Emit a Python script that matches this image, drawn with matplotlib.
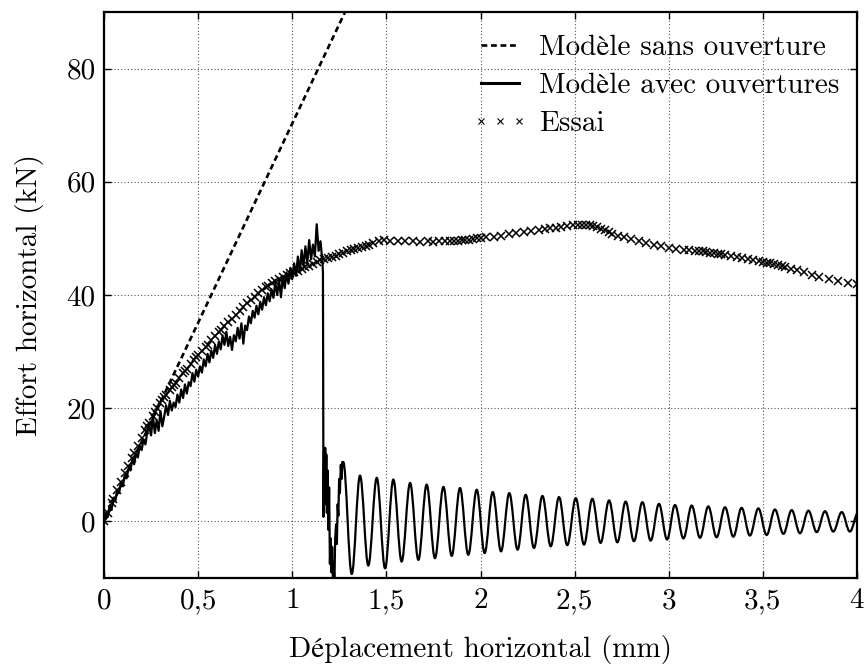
import matplotlib
matplotlib.use("Agg")
import matplotlib.pyplot as plt
from matplotlib.path import Path
from matplotlib.patches import PathPatch
from matplotlib.lines import Line2D

plt.rcParams['font.family'] = ['cmr10', 'STIXGeneral']
plt.rcParams['mathtext.fontset'] = 'cm'
plt.rcParams['axes.formatter.use_mathtext'] = True

# ---------------- data ----------------
# Modèle sans ouverture (linear elastic)
sans_x = [0.0, 0.5, 1.0, 1.4]
sans_y = [0.0, 35.1, 70.3, 98.4]

# Essai (test)
essai_x = [0.00, 0.02, 0.04, 0.05, 0.07, 0.09, 0.11, 0.13, 0.15, 0.16, 0.18, 0.20, 0.22, 0.23, 0.24,
           0.26, 0.27, 0.28, 0.30, 0.31, 0.32, 0.33, 0.35, 0.36, 0.37, 0.38, 0.40, 0.42, 0.43, 0.44,
           0.46, 0.48, 0.49, 0.50, 0.52, 0.54, 0.55, 0.57, 0.59, 0.61, 0.62, 0.64, 0.66, 0.68, 0.70,
           0.72, 0.74, 0.76, 0.78, 0.80, 0.82, 0.84, 0.86, 0.87, 0.89, 0.91, 0.93, 0.95, 0.97, 0.99,
           1.01, 1.03, 1.05, 1.07, 1.09, 1.11, 1.13, 1.15, 1.17, 1.19, 1.21, 1.23, 1.25, 1.27, 1.29,
           1.31, 1.33, 1.35, 1.37, 1.39, 1.41, 1.43, 1.46, 1.49, 1.52, 1.56, 1.60, 1.64, 1.68, 1.72,
           1.75, 1.78, 1.81, 1.84, 1.86, 1.88, 1.90, 1.92, 1.94, 1.96, 1.98, 2.00, 2.03, 2.07, 2.11,
           2.15, 2.19, 2.23, 2.27, 2.31, 2.34, 2.37, 2.40, 2.43, 2.46, 2.49, 2.52, 2.54, 2.56, 2.58,
           2.60, 2.62, 2.64, 2.66, 2.68, 2.70, 2.73, 2.76, 2.80, 2.84, 2.88, 2.92, 2.96, 3.00, 3.04,
           3.08, 3.11, 3.14, 3.16, 3.18, 3.20, 3.22, 3.24, 3.26, 3.28, 3.30, 3.33, 3.36, 3.39, 3.42,
           3.45, 3.48, 3.50, 3.52, 3.54, 3.56, 3.58, 3.60, 3.62, 3.65, 3.68, 3.72, 3.76, 3.80, 3.85,
           3.90, 3.95, 4.00]
essai_y = [0.0, 1.5, 3.2, 4.0, 5.6, 7.0, 8.5, 9.8, 11.2, 12.0, 13.4, 14.8, 16.2, 16.8, 17.4,
           18.7, 19.4, 20.0, 20.9, 21.4, 21.9, 22.4, 23.3, 23.7, 24.1, 24.5, 25.3, 26.2, 26.6, 27.0,
           27.8, 28.6, 29.0, 29.4, 30.1, 30.9, 31.2, 32.0, 32.7, 33.4, 33.8, 34.5, 35.2, 35.8, 36.5,
           37.1, 37.8, 38.5, 39.1, 39.7, 40.3, 40.9, 41.4, 41.6, 42.1, 42.5, 42.9, 43.2, 43.5, 43.8,
           44.0, 44.3, 44.6, 45.0, 45.2, 45.5, 45.8, 46.1, 46.3, 46.5, 46.7, 46.9, 47.2, 47.4, 47.7,
           47.9, 48.1, 48.3, 48.5, 48.7, 48.9, 49.2, 49.5, 49.7, 49.6, 49.6, 49.5, 49.5, 49.4, 49.5,
           49.4, 49.5, 49.5, 49.6, 49.6, 49.6, 49.7, 49.8, 49.8, 49.9, 50.0, 50.0, 50.2, 50.3, 50.5,
           50.7, 50.9, 51.1, 51.3, 51.5, 51.6, 51.8, 51.9, 52.0, 52.2, 52.3, 52.4, 52.4, 52.4, 52.3,
           52.2, 52.0, 51.7, 51.4, 51.1, 50.8, 50.5, 50.2, 49.9, 49.5, 49.2, 48.9, 48.6, 48.3, 48.1,
           48.0, 47.9, 47.8, 47.7, 47.7, 47.6, 47.5, 47.4, 47.3, 47.2, 47.1, 46.9, 46.7, 46.6, 46.4,
           46.2, 46.0, 45.9, 45.7, 45.6, 45.4, 45.3, 45.1, 44.9, 44.6, 44.4, 44.0, 43.6, 43.2, 42.8,
           42.5, 42.2, 42.0]

# Modèle avec ouvertures: noisy loading branch, collapse, then damped oscillation extrema
avec_x = [0.00, 0.01, 0.02, 0.03, 0.04, 0.05, 0.06, 0.07, 0.08, 0.09, 0.10, 0.11, 0.12, 0.13, 0.14,
          0.15, 0.16, 0.17, 0.18, 0.19, 0.20, 0.21, 0.22, 0.23, 0.24, 0.25, 0.26, 0.27, 0.28, 0.29,
          0.30, 0.31, 0.32, 0.33, 0.34, 0.35, 0.36, 0.37, 0.38, 0.39, 0.40, 0.41, 0.42, 0.43, 0.44,
          0.45, 0.46, 0.47, 0.48, 0.49, 0.50, 0.51, 0.52, 0.53, 0.54, 0.55, 0.56, 0.57, 0.58, 0.59,
          0.60, 0.61, 0.62, 0.63, 0.64, 0.65, 0.66, 0.67, 0.68, 0.69, 0.70, 0.71, 0.72, 0.73, 0.74,
          0.75, 0.76, 0.77, 0.78, 0.79, 0.80, 0.81, 0.82, 0.83, 0.84, 0.85, 0.86, 0.87, 0.88, 0.89,
          0.90, 0.91, 0.92, 0.93, 0.94, 0.95, 0.96, 0.97, 0.98, 0.99, 1.00, 1.01, 1.02, 1.03, 1.04,
          1.05, 1.06, 1.07, 1.08, 1.09, 1.10, 1.11, 1.12, 1.13, 1.14, 1.15, 1.16, 1.163, 1.166,
          1.169, 1.172, 1.175, 1.178, 1.181, 1.184, 1.188, 1.192, 1.196, 1.200, 1.204, 1.208, 1.212,
          1.216, 1.220, 1.224, 1.228, 1.233, 1.237, 1.241, 1.245, 1.249, 1.253, 1.258, 1.262, 1.266]
avec_y = [0.0, 1.5, 0.8, 2.8, 2.0, 4.2, 3.6, 5.4, 5.0, 6.8, 6.2, 8.0, 7.6, 9.3, 9.0,
          10.8, 10.1, 12.0, 11.3, 13.4, 12.6, 14.5, 13.6, 15.8, 16.8, 15.2, 18.6, 15.6, 17.9, 16.0,
          19.5, 16.8, 18.6, 20.5, 18.8, 21.3, 19.6, 21.0, 20.2, 22.4, 21.0, 23.3, 21.8, 24.2, 22.6,
          24.6, 23.9, 26.2, 24.7, 26.8, 25.6, 27.4, 26.3, 28.6, 27.4, 29.6, 28.1, 30.2, 28.9, 31.2,
          29.6, 31.8, 30.4, 32.8, 31.2, 33.5, 31.0, 32.6, 30.3, 32.9, 31.8, 34.2, 32.3, 35.0, 31.4,
          34.6, 33.8, 36.2, 35.0, 37.2, 36.0, 38.1, 36.6, 38.8, 37.4, 39.6, 38.2, 40.3, 38.9, 41.0,
          39.5, 42.2, 40.0, 42.6, 39.6, 43.3, 41.2, 44.0, 42.0, 44.8, 42.8, 45.6, 43.4, 46.8, 44.0,
          47.9, 45.1, 48.6, 45.6, 49.7, 46.3, 48.9, 46.8, 52.5, 47.8, 49.5, 46.0, 44.0, 0.8,
          12.5, 3.0, 13.0, 5.0, 11.8, 1.5, 9.0, -1.5, 6.0, -7.5, -3.0, -9.0, -4.5,
          -10.5, -8.0, -11.0, -3.0, -0.5, -4.0, 3.0, 1.0, 7.5, 5.0, 10.0, 7.5, 10.5]

osc_x = [1.271, 1.316, 1.360, 1.404, 1.449, 1.493, 1.537, 1.581, 1.626, 1.670, 1.714, 1.758,
         1.803, 1.847, 1.891, 1.935, 1.980, 2.022, 2.065, 2.109, 2.153, 2.197, 2.240, 2.284,
         2.329, 2.373, 2.417, 2.461, 2.506, 2.550, 2.594, 2.638, 2.683, 2.727, 2.771, 2.815,
         2.860, 2.904, 2.948, 2.991, 3.033, 3.078, 3.122, 3.166, 3.210, 3.254, 3.299, 3.343,
         3.387, 3.431, 3.476, 3.520, 3.564, 3.609, 3.653, 3.697, 3.742, 3.786, 3.830, 3.874,
         3.919, 3.962, 4.007]
osc_y = [10.5, -9.3, 8.1, -7.8, 7.7, -8.3, 7.4, -7.1, 6.8, -6.8, 6.5, -6.5,
         6.1, -6.1, 5.9, -5.9, 5.6, -5.6, 5.2, -5.3, 5.0, -5.0, 4.7, -4.7,
         4.5, -4.4, 4.3, -4.2, 4.1, -4.1, 4.0, -3.8, 3.7, -3.7, 3.5, -3.5,
         3.4, -3.4, 3.1, -3.2, 2.9, -3.0, 2.8, -2.9, 2.65, -2.8, 2.5, -2.7,
         2.4, -2.5, 2.3, -2.4, 2.1, -2.2, 2.0, -2.1, 1.9, -1.9, 1.8, -1.8,
         1.65, -1.8, 1.6]

xticks = [0, 0.5, 1, 1.5, 2, 2.5, 3, 3.5, 4]
xtick_labels = ["0", "0,5", "1", "1,5", "2", "2,5", "3", "3,5", "4"]
yticks = [0, 20, 40, 60, 80]
ytick_labels = ["0", "20", "40", "60", "80"]

labels = ["Modèle sans ouverture", "Modèle avec ouvertures", "Essai"]

# ---------------- figure ----------------
FS = 21
fig = plt.figure(figsize=(8.64, 6.64), dpi=100)
ax = fig.add_axes([104/864, 86/664, 753/864, 566/664])

dash = (0, (2.2, 1.4))
ax.plot(sans_x, sans_y, color='black', lw=1.9, linestyle=dash, zorder=3)

ax.plot(essai_x, essai_y, linestyle='none', marker='x', color='black',
        markersize=6, markeredgewidth=1.1, zorder=3)

# solid curve: polyline for the noisy branch, smooth cubic segments between oscillation extrema
verts = [(avec_x[0], avec_y[0])]
codes = [Path.MOVETO]
for xv, yv in zip(avec_x[1:], avec_y[1:]):
    verts.append((xv, yv))
    codes.append(Path.LINETO)
pts = list(zip(osc_x, osc_y))
verts.append(pts[0]); codes.append(Path.LINETO)
k = 0.3634
for (x0, y0), (x1, y1) in zip(pts[:-1], pts[1:]):
    dx = x1 - x0
    verts += [(x0 + k*dx, y0), (x1 - k*dx, y1), (x1, y1)]
    codes += [Path.CURVE4, Path.CURVE4, Path.CURVE4]
patch = PathPatch(Path(verts, codes), fill=False, edgecolor='black', lw=1.6,
                  joinstyle='round', zorder=4)
ax.add_patch(patch)

ax.set_xlim(0, 4)
ax.set_ylim(-10, 90)
ax.set_xticks(xticks)
ax.set_xticklabels(xtick_labels)
ax.set_yticks(yticks)
ax.set_yticklabels(ytick_labels)
ax.tick_params(direction='in', top=True, right=True, length=5, width=1.0,
               labelsize=FS, color='black')
ax.tick_params(axis='x', pad=7)
ax.tick_params(axis='y', pad=6)
ax.grid(True, linestyle=(0, (1, 2)), color='#555555', lw=0.8)
for s in ax.spines.values():
    s.set_linewidth(1.6)

ax.set_xlabel("Déplacement horizontal (mm)", fontsize=FS, labelpad=15)
ax.set_ylabel("Effort horizontal (kN)", fontsize=FS, labelpad=16)

handles = [Line2D([], [], color='black', lw=1.9, linestyle=dash),
           Line2D([], [], color='black', lw=2.2),
           Line2D([], [], color='black', linestyle='none', marker='x', markersize=4.5,
                  markeredgewidth=0.8)]
leg = ax.legend(handles, labels, loc='upper right', frameon=False, fontsize=FS,
                handlelength=1.9, numpoints=3, markerscale=1.0,
                bbox_to_anchor=(1.0, 1.0 - 5/566),
                borderaxespad=0.2, labelspacing=0.4, handletextpad=0.4)

fig.savefig("out.png", dpi=100)
